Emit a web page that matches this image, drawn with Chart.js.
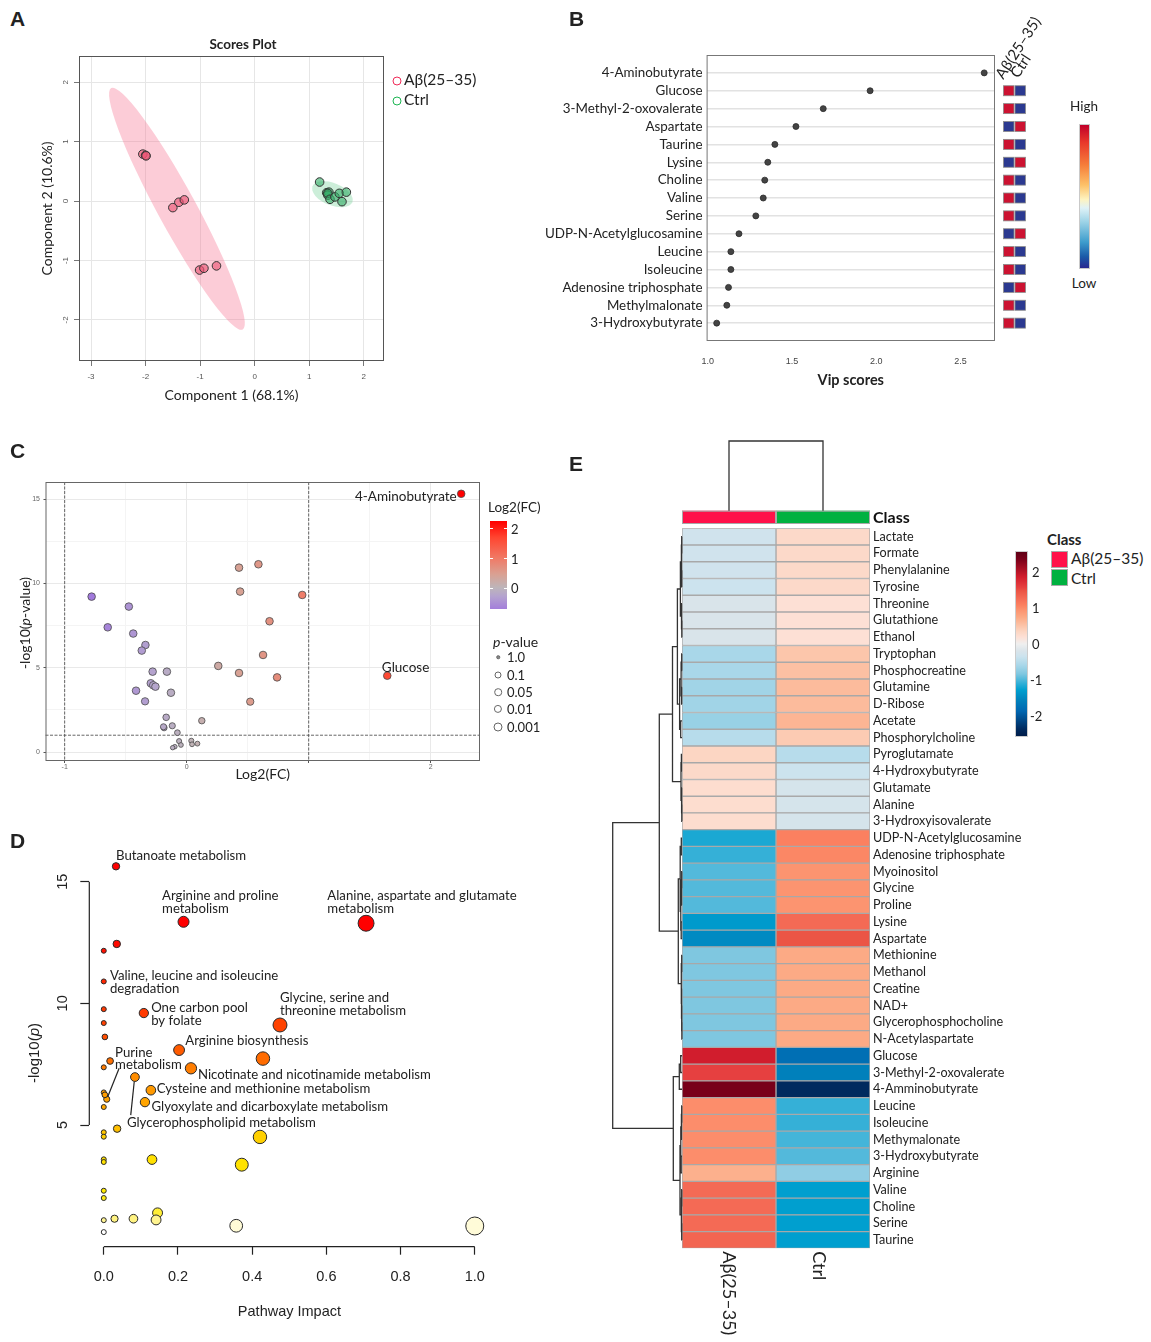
<!DOCTYPE html>
<html>
<head>
<meta charset="utf-8">
<title>NMR metabolomics panels</title>
<script src="https://cdn.jsdelivr.net/npm/chart.js@4.4.1/dist/chart.umd.min.js"></script>
<style>
  body { margin: 0; background: #fff; font-family: Lato, sans-serif; color: #222; }
  #page { position: relative; width: 1151px; height: 1342px; overflow: hidden; background: #fff; }
  #page canvas { position: absolute; }
  .t { position: absolute; white-space: nowrap; line-height: 1; }
  .mid { transform: translateY(-50%); }
  .ctr { transform: translate(-50%, -50%); }
  .letter { position: absolute; font: bold 21px "Liberation Sans", Arial, sans-serif; line-height: 1; transform: translateY(-50%); }
  .box { position: absolute; box-sizing: border-box; }
  .dot { position: absolute; box-sizing: border-box; border-radius: 50%; transform: translate(-50%, -50%); }
</style>
</head>
<body>
<div id="page">
  <canvas id="chartA" width="486" height="390" style="left:0;top:30px"></canvas>
  <canvas id="chartB" width="500" height="400" style="left:540px;top:0"></canvas>
  <canvas id="chartC" width="490" height="350" style="left:0;top:440px"></canvas>
  <canvas id="chartD" width="540" height="502" style="left:0;top:840px"></canvas>
  <canvas id="chartE" width="480" height="922" style="left:560px;top:420px"></canvas>

  <!-- panel letters -->
  <div class="letter" style="left:10px;top:18px">A</div>
  <div class="letter" style="left:569px;top:18px">B</div>
  <div class="letter" style="left:10px;top:450px">C</div>
  <div class="letter" style="left:10px;top:840px">D</div>
  <div class="letter" style="left:569px;top:463px">E</div>

  <!-- A: title + legend -->
  <div class="t ctr" style="left:243px;top:45px;font-weight:bold;font-size:13.5px">Scores Plot</div>
  <div class="dot" style="left:396.5px;top:80.5px;width:9px;height:9px;border:1.6px solid #ef2b58"></div>
  <div class="t mid" style="left:404px;top:80px;font-size:15.5px">Aβ(25–35)</div>
  <div class="dot" style="left:396.5px;top:100.5px;width:9px;height:9px;border:1.6px solid #1bb552"></div>
  <div class="t mid" style="left:404px;top:100px;font-size:15.5px">Ctrl</div>

  <!-- B: column headers + colour key -->
  <div class="t" style="left:1005px;top:66px;font-size:15px;transform-origin:0 100%;transform:rotate(-57deg)">Aβ(25–35)</div>
  <div class="t" style="left:1020px;top:65px;font-size:15px;transform-origin:0 100%;transform:rotate(-57deg)">Ctrl</div>
  <div class="t ctr" style="left:1084px;top:106.5px;font-size:13.5px">High</div>
  <div class="box" style="left:1079px;top:124px;width:10.5px;height:145px;border:1px solid #c9c9c9;background:linear-gradient(to bottom,#c0002a 0%,#e8372a 12%,#f67d3a 28%,#fdc168 42%,#fef3c0 52%,#dff2f7 58%,#9bd2e6 68%,#3d9ccc 82%,#1b5aa8 92%,#29288f 100%)"></div>
  <div class="t ctr" style="left:1084px;top:284px;font-size:13.5px">Low</div>

  <!-- C: y title + legends -->
  <div class="t ctr" style="left:25px;top:623px;font-size:14px;transform:translate(-50%,-50%) rotate(-90deg)">-log10(<i>p</i>-value)</div>
  <div class="t mid" style="left:488px;top:508px;font-size:13.5px">Log2(FC)</div>
  <div class="box" id="barC" style="left:490px;top:520.7px;width:17px;height:88.3px"></div>
  <div class="box" style="left:490px;top:528px;width:3px;height:1px;background:#fff"></div>
  <div class="box" style="left:504px;top:528px;width:3px;height:1px;background:#fff"></div>
  <div class="box" style="left:490px;top:558px;width:3px;height:1px;background:#fff"></div>
  <div class="box" style="left:504px;top:558px;width:3px;height:1px;background:#fff"></div>
  <div class="box" style="left:490px;top:587.5px;width:3px;height:1px;background:#fff"></div>
  <div class="box" style="left:504px;top:587.5px;width:3px;height:1px;background:#fff"></div>
  <div class="t mid" style="left:511px;top:528.5px;font-size:13px">2</div>
  <div class="t mid" style="left:511px;top:558.5px;font-size:13px">1</div>
  <div class="t mid" style="left:511px;top:588px;font-size:13px">0</div>
  <div class="t mid" style="left:493px;top:642px;font-size:14px"><i>p</i>-value</div>
  <div class="dot" style="left:498px;top:657.3px;width:3.5px;height:3.5px;background:#888;border:0.8px solid #666"></div>
  <div class="dot" style="left:498px;top:675px;width:7px;height:7px;border:1px solid #666"></div>
  <div class="dot" style="left:498px;top:692px;width:7.6px;height:7.6px;border:1px solid #666"></div>
  <div class="dot" style="left:498px;top:709.3px;width:8.2px;height:8.2px;border:1px solid #666"></div>
  <div class="dot" style="left:498px;top:726.7px;width:9px;height:9px;border:1px solid #666"></div>
  <div class="t mid" style="left:507px;top:657.3px;font-size:13px">1.0</div>
  <div class="t mid" style="left:507px;top:675px;font-size:13px">0.1</div>
  <div class="t mid" style="left:507px;top:692px;font-size:13px">0.05</div>
  <div class="t mid" style="left:507px;top:709.3px;font-size:13px">0.01</div>
  <div class="t mid" style="left:507px;top:726.7px;font-size:13px">0.001</div>

  <!-- D: y title -->
  <div class="t ctr" style="left:33px;top:1053px;font:15px 'Liberation Sans',Arial,sans-serif;transform:translate(-50%,-50%) rotate(-90deg)">-log10(<i>p</i>)</div>

  <!-- E: legends -->
  <div class="t mid" style="left:1047px;top:539px;font-size:15px;font-weight:bold">Class</div>
  <div class="box" style="left:1051px;top:550.7px;width:16.6px;height:17px;background:#ff1049;border:1px solid #aaa"></div>
  <div class="box" style="left:1051px;top:569px;width:16.6px;height:17px;background:#00b140;border:1px solid #aaa"></div>
  <div class="t mid" style="left:1071px;top:559.3px;font-size:15.5px">Aβ(25–35)</div>
  <div class="t mid" style="left:1071px;top:579.3px;font-size:15.5px">Ctrl</div>
  <div class="box" id="barE" style="left:1015px;top:550.7px;width:13px;height:186.6px;border:1px solid #ccc"></div>
  <div class="t mid" style="left:1032px;top:572.3px;font-size:13px">2</div>
  <div class="t mid" style="left:1032px;top:608.3px;font-size:13px">1</div>
  <div class="t mid" style="left:1032px;top:644px;font-size:13px">0</div>
  <div class="t mid" style="left:1030px;top:680px;font-size:13px">-1</div>
  <div class="t mid" style="left:1030px;top:715.7px;font-size:13px">-2</div>
</div>

<script>
/*** data ***/

// A - PLS-DA scores
const abPc1 = [-2.05, -2.00, -1.99, -1.50, -1.39, -1.29, -1.01, -0.93, -0.70];
const abPc2 = [0.79, 0.77, 0.76, -0.11, -0.02, 0.02, -1.16, -1.13, -1.09];
const ctrlPc1 = [1.19, 1.32, 1.36, 1.34, 1.34, 1.38, 1.47, 1.55, 1.68, 1.60];
const ctrlPc2 = [0.32, 0.14, 0.15, 0.10, 0.13, 0.03, 0.07, 0.13, 0.15, -0.01];
const scoreTicksX = [-3, -2, -1, 0, 1, 2];
const scoreTicksY = [-2, -1, 0, 1, 2];
// 95% regions: ends of the long axis (data units) and short/long ratio
const abRegion = { from: [-2.63, 1.90], to: [-0.22, -2.16], ratio: 0.14 };
const ctrlRegion = { from: [1.06, 0.25], to: [1.79, -0.02], ratio: 0.52 };

// B - VIP scores
const vipNames = ['4-Aminobutyrate', 'Glucose', '3-Methyl-2-oxovalerate', 'Aspartate', 'Taurine', 'Lysine',
  'Choline', 'Valine', 'Serine', 'UDP-N-Acetylglucosamine', 'Leucine', 'Isoleucine',
  'Adenosine triphosphate', 'Methylmalonate', '3-Hydroxybutyrate'];
const vipScores = [2.64, 1.963, 1.685, 1.523, 1.398, 1.356, 1.338, 1.329, 1.285, 1.185, 1.137, 1.137, 1.123, 1.113, 1.053];
const vipAbHigh = [null, 1, 1, 0, 1, 0, 1, 1, 1, 0, 1, 1, 0, 1, 1];   // 1 = higher in Aβ(25–35)
const vipTicks = [1.0, 1.5, 2.0, 2.5];

// C - volcano
const fcLog2 = [2.25, 1.644, 0.588, 0.429, 0.438, 0.947, 0.679, 0.626, 0.259, 0.429, 0.741, 0.521, 0.124,
  -0.779, -0.474, -0.647, -0.438, -0.338, -0.368, -0.279, -0.162, -0.294, -0.274, -0.256, -0.415, -0.129,
  -0.341, -0.168, -0.185, -0.190, -0.118, -0.076, -0.062, 0.038, 0.044, 0.088, -0.047, -0.097, -0.115];
const fcLogP = [15.32, 4.53, 11.14, 10.94, 9.52, 9.32, 7.76, 5.76, 5.11, 4.69, 4.43, 2.99, 1.86,
  9.22, 8.63, 7.40, 7.03, 6.35, 6.02, 4.77, 4.77, 4.08, 3.96, 3.88, 3.64, 3.52,
  3.01, 2.06, 1.44, 1.50, 1.56, 1.15, 0.65, 0.67, 0.46, 0.50, 0.42, 0.32, 0.26];
const fcNamed = ['4-Aminobutyrate', 'Glucose'];   // first two points
const fcTicksX = [-1, -0.5, 0, 0.5, 1, 1.5, 2];
const fcTicksY = [0, 2.5, 5, 7.5, 10, 12.5, 15];
const fcCutP = 1, fcCutFC = [-1, 1];

// D - pathway analysis
const pathNames = ['Butanoate metabolism', 'Arginine and proline metabolism', 'Alanine, aspartate and glutamate metabolism',
  '', '', 'Valine, leucine and isoleucine degradation', '', '', '', 'One carbon pool by folate',
  'Glycine, serine and threonine metabolism', 'Arginine biosynthesis', '', 'Nicotinate and nicotinamide metabolism',
  '', '', 'Glycerophospholipid metabolism', 'Purine metabolism', '', '', 'Cysteine and methionine metabolism',
  'Glyoxylate and dicarboxylate metabolism', '', '', '', '', '', '', '', '', '', '', '', '', '', '', '', '', '', '', ''];
const pathImpact = [0.033, 0.215, 0.707, 0.035, 0.0, 0.0, 0.0, 0.0, 0.003, 0.108, 0.475, 0.203, 0.429, 0.235,
  0.017, 0.0, 0.084, 0.008, 0.0, 0.003, 0.127, 0.111, 0.0, 0.036, 0.421, 0.0, 0.0, 0.0, 0.0, 0.130, 0.372,
  0.0, 0.0, 0.145, 0.141, 0.0, 0.029, 0.080, 0.357, 1.0, 0.0];
const pathLogP = [15.63, 13.35, 13.29, 12.44, 12.16, 10.90, 9.76, 9.19, 8.62, 9.60, 9.11, 8.08, 7.73, 7.33,
  7.63, 7.37, 6.97, 6.06, 6.34, 6.24, 6.43, 5.94, 5.74, 4.85, 4.51, 4.70, 4.52, 3.59, 3.48, 3.58, 3.37,
  2.30, 2.00, 1.39, 1.10, 1.09, 1.15, 1.15, 0.86, 0.85, 0.60];
const impactTicks = [0, 0.2, 0.4, 0.6, 0.8, 1.0];
const pathTicksY = [5, 10, 15];

// E - heatmap of group averages
const heatRows = ['Lactate', 'Formate', 'Phenylalanine', 'Tyrosine', 'Threonine', 'Glutathione', 'Ethanol',
  'Tryptophan', 'Phosphocreatine', 'Glutamine', 'D-Ribose', 'Acetate', 'Phosphorylcholine', 'Pyroglutamate',
  '4-Hydroxybutyrate', 'Glutamate', 'Alanine', '3-Hydroxyisovalerate', 'UDP-N-Acetylglucosamine',
  'Adenosine triphosphate', 'Myoinositol', 'Glycine', 'Proline', 'Lysine', 'Aspartate', 'Methionine',
  'Methanol', 'Creatine', 'NAD+', 'Glycerophosphocholine', 'N-Acetylaspartate', 'Glucose',
  '3-Methyl-2-oxovalerate', '4-Amminobutyrate', 'Leucine', 'Isoleucine', 'Methymalonate',
  '3-Hydroxybutyrate', 'Arginine', 'Valine', 'Choline', 'Serine', 'Taurine'];
const heatAb = [-0.30, -0.30, -0.30, -0.35, -0.20, -0.20, -0.20, -0.60, -0.60, -0.65, -0.65, -0.70, -0.50,
  0.35, 0.30, 0.25, 0.25, 0.25, -1.20, -1.10, -1.00, -1.00, -1.00, -1.35, -1.50, -0.85, -0.85, -0.85,
  -0.85, -0.85, -0.85, 1.90, 1.60, 2.40, 1.00, 1.00, 1.00, 1.00, 0.70, 1.30, 1.30, 1.30, 1.35];
const heatCtrl = [0.30, 0.30, 0.30, 0.30, 0.20, 0.20, 0.20, 0.50, 0.55, 0.60, 0.60, 0.65, 0.45,
  -0.50, -0.35, -0.25, -0.25, -0.25, 1.10, 1.05, 0.95, 0.95, 0.95, 1.30, 1.50, 0.75, 0.75, 0.75,
  0.75, 0.75, 0.75, -1.80, -1.60, -2.40, -1.10, -1.10, -1.05, -1.00, -0.75, -1.30, -1.30, -1.30, -1.30];
const heatGroups = ['Aβ(25–35)', 'Ctrl'];
// row clustering: [height, left, right], leaves are row indices
const rowTree = [69.3,
  [22.7,
    [9.5,
      [4.6, [1.6, [0.6, [0.3, 0, 1], [0.3, 2, 3]], [0.5, 4, [0.2, 5, 6]]],
            [2.4, [0.9, [0.3, 7, 8], [0.4, 9, 10]], [1.3, 11, 12]]],
      [1.0, [0.6, 13, 14], [0.4, 15, [0.2, 16, 17]]]],
    [3.7, [1.8, [0.7, 18, 19], [1.2, [0.5, [0.3, 20, 21], 22], [0.8, 23, 24]]],
          [0.7, [0.3, 25, 26], [0.5, 27, [0.3, 28, [0.15, 29, 30]]]]]],
  [8.7,
    [2.7, [1.3, 31, 32], 33],
    [2.0, [1.2, [0.6, [0.3, 34, 35], 36], [0.8, 37, 38]], [0.6, [0.3, 39, 40], [0.3, 41, 42]]]]];

/*** palettes ***/
const fcPalette = [[-0.8, '#a077dd'], [-0.3, '#b4a2cf'], [0, '#bdb5ba'], [0.45, '#d9a193'],
  [1.0, '#f07a66'], [1.7, '#ff4530'], [2.25, '#ff0000']];
const pPalette = [[0.6, '#ffffff'], [0.86, '#fffbd6'], [1.1, '#fff490'], [1.4, '#ffee33'], [2.3, '#ffea00'],
  [3.6, '#ffe000'], [4.5, '#ffd000'], [5.0, '#ffb800'], [5.9, '#ffa500'], [7.0, '#ff8c00'], [8.1, '#ff5a00'],
  [9.2, '#ff4000'], [11, '#ff2500'], [13, '#ff0000']];
const heatPalette = [[-2.6, '#001d4a'], [-2.4, '#002a5e'], [-1.9, '#0066b0'], [-1.6, '#0080bb'], [-1.3, '#009fcf'],
  [-1.1, '#35b0d7'], [-0.85, '#7fc7e0'], [-0.6, '#a9d7e9'], [-0.35, '#cce3ee'], [-0.2, '#d9e4ea'], [0, '#efefef'],
  [0.2, '#fde0d5'], [0.35, '#fcd6c3'], [0.55, '#fcc0a3'], [0.75, '#fcaa85'], [0.95, '#fc9470'], [1.1, '#fb8060'],
  [1.3, '#f46a55'], [1.5, '#eb5545'], [1.6, '#e64040'], [1.9, '#d11d2d'], [2.4, '#780019'], [2.6, '#5e0015']];

function hexRgb(h) { return [1, 3, 5].map(i => parseInt(h.substr(i, 2), 16)); }
function ramp(stops, v) {
  if (v <= stops[0][0]) return stops[0][1];
  for (let i = 1; i < stops.length; i++) {
    if (v <= stops[i][0]) {
      const t = (v - stops[i - 1][0]) / (stops[i][0] - stops[i - 1][0]);
      const a = hexRgb(stops[i - 1][1]), b = hexRgb(stops[i][1]);
      return 'rgb(' + a.map((c, k) => Math.round(c + (b[k] - c) * t)).join(',') + ')';
    }
  }
  return stops[stops.length - 1][1];
}
function cssRamp(stops, lo, hi) {
  return 'linear-gradient(to top,' + stops.map(([v, c]) => c + ' ' + ((v - lo) / (hi - lo) * 100).toFixed(1) + '%').join(',') + ')';
}
document.getElementById('barC').style.background = cssRamp(fcPalette, -0.72, 2.26);
document.getElementById('barE').style.background = cssRamp(heatPalette, -2.6, 2.6);

Chart.defaults.font.family = 'Lato, sans-serif';
Chart.defaults.color = '#222';
Chart.defaults.animation = false;
Chart.defaults.events = [];
Chart.defaults.plugins.legend.display = false;
Chart.defaults.plugins.tooltip.enabled = false;

const pts = (xs, ys) => xs.map((x, i) => ({ x, y: ys[i] }));
const tickFont = { family: 'Liberation Sans', size: 8 };

// box round the plot area
const framePlugin = {
  id: 'frame',
  afterDatasetsDraw(chart, args, opts) {
    const { ctx, chartArea: a } = chart;
    ctx.save();
    ctx.strokeStyle = opts.color || '#666';
    ctx.lineWidth = 1;
    ctx.strokeRect(a.left + 0.5, a.top + 0.5, a.width - 1, a.height - 1);
    ctx.restore();
  }
};

/*** A: scores plot ***/
const regionPlugin = {
  id: 'regions',
  beforeDatasetsDraw(chart) {
    const { ctx, scales: { x, y } } = chart;
    [[abRegion, 'rgba(247,120,150,0.38)'], [ctrlRegion, 'rgba(110,205,145,0.35)']].forEach(([r, col]) => {
      const x1 = x.getPixelForValue(r.from[0]), y1 = y.getPixelForValue(r.from[1]);
      const x2 = x.getPixelForValue(r.to[0]), y2 = y.getPixelForValue(r.to[1]);
      const half = Math.hypot(x2 - x1, y2 - y1) / 2;
      ctx.save();
      ctx.beginPath();
      ctx.ellipse((x1 + x2) / 2, (y1 + y2) / 2, half, half * r.ratio, Math.atan2(y2 - y1, x2 - x1), 0, Math.PI * 2);
      ctx.fillStyle = col;
      ctx.fill();
      ctx.restore();
    });
  }
};

new Chart(document.getElementById('chartA'), {
  type: 'scatter',
  data: {
    datasets: [
      { label: 'Aβ(25–35)', data: pts(abPc1, abPc2), backgroundColor: 'rgba(236,84,116,0.62)', borderColor: '#333', borderWidth: 1, pointRadius: 4.3 },
      { label: 'Ctrl', data: pts(ctrlPc1, ctrlPc2), backgroundColor: 'rgba(55,175,105,0.62)', borderColor: '#333', borderWidth: 1, pointRadius: 4.3 }
    ]
  },
  options: {
    responsive: false,
    layout: { padding: { left: 0, right: 102, top: 26, bottom: 0 } },
    plugins: { frame: { color: '#555' } },
    scales: {
      x: {
        type: 'linear', min: -3.22, max: 2.37,
        afterBuildTicks: s => { s.ticks = scoreTicksX.map(v => ({ value: v })); },
        afterFit: s => { s.height = 59; },
        grid: { color: '#e6e6e6', tickColor: '#777', tickLength: 5 },
        border: { display: false },
        ticks: { font: tickFont, color: '#555', padding: 6 },
        title: { display: true, text: 'Component 1 (68.1%)', font: { size: 14 }, padding: { top: 0, bottom: 16 } }
      },
      y: {
        type: 'linear', min: -2.69, max: 2.44,
        afterBuildTicks: s => { s.ticks = scoreTicksY.map(v => ({ value: v })); },
        afterFit: s => { s.width = 79; s.paddingTop = 0; s.paddingBottom = 0; },
        grid: { color: '#e6e6e6', tickColor: '#777', tickLength: 5 },
        border: { display: false },
        ticks: { font: tickFont, color: '#555', padding: 4.5, minRotation: 90, maxRotation: 90, crossAlign: 'center' },
        title: { display: true, text: 'Component 2 (10.6%)', font: { size: 14 }, padding: { top: 39, bottom: 0 } }
      }
    }
  },
  plugins: [regionPlugin, framePlugin]
});

/*** B: VIP scores ***/
const vipKeyPlugin = {
  id: 'vipKey',
  afterDraw(chart) {
    const { ctx, chartArea: a, scales: { y } } = chart;
    ctx.save();
    ctx.lineWidth = 0.8;
    ctx.strokeStyle = '#8a8a8a';
    vipAbHigh.forEach((h, i) => {
      if (h === null) return;
      const py = y.getPixelForValue(i + 1);
      const cols = h ? ['#cc1231', '#2b3990'] : ['#2b3990', '#cc1231'];
      cols.forEach((c, k) => {
        const px = a.right + 8.5 + k * 11.5;
        ctx.fillStyle = c;
        ctx.fillRect(px, py - 5, 10.5, 10);
        ctx.strokeRect(px, py - 5, 10.5, 10);
      });
    });
    ctx.restore();
  }
};

new Chart(document.getElementById('chartB'), {
  type: 'scatter',
  data: {
    datasets: [{ data: vipScores.map((v, i) => ({ x: v, y: i + 1 })), backgroundColor: '#444', borderColor: '#2a2a2a', borderWidth: 0.8, pointRadius: 3 }]
  },
  options: {
    responsive: false,
    layout: { padding: { left: 0, right: 45, top: 55, bottom: 0 } },
    plugins: { frame: { color: '#777' } },
    scales: {
      x: {
        type: 'linear', min: 0.993, max: 2.704,
        afterBuildTicks: s => { s.ticks = vipTicks.map(v => ({ value: v })); },
        afterFit: s => { s.height = 59; },
        grid: { drawOnChartArea: false, drawTicks: false },
        border: { display: false },
        ticks: { font: { family: 'Liberation Sans', size: 9 }, color: '#444', padding: 15.3, callback: v => v.toFixed(1) },
        title: { display: true, text: 'Vip scores', font: { size: 14.5, weight: 'bold' }, padding: { top: 0, bottom: 10.6 } }
      },
      y: {
        type: 'linear', min: 0, max: 16, reverse: true,
        afterBuildTicks: s => { s.ticks = vipNames.map((n, i) => ({ value: i + 1 })); },
        afterFit: s => { s.width = 166.6; s.paddingTop = 0; s.paddingBottom = 0; },
        grid: { color: '#e2e2e2', lineWidth: 1.5, drawTicks: false },
        border: { display: false },
        ticks: { font: { size: 13.4 }, color: '#222', padding: 4, autoSkip: false, callback: v => vipNames[v - 1] }
      }
    }
  },
  plugins: [framePlugin, vipKeyPlugin]
});

/*** C: volcano plot ***/
const fcRadius = v => Math.min(3.8, 1.6 + 1.2 * Math.sqrt(Math.max(v, 0)));

const cutLinePlugin = {
  id: 'cutLines',
  beforeDatasetsDraw(chart) {
    const { ctx, chartArea: a, scales: { x, y } } = chart;
    ctx.save();
    ctx.strokeStyle = '#555';
    ctx.lineWidth = 0.9;
    ctx.setLineDash([3, 1.5]);
    ctx.beginPath();
    fcCutFC.forEach(v => { const px = x.getPixelForValue(v); ctx.moveTo(px, a.top); ctx.lineTo(px, a.bottom); });
    const py = y.getPixelForValue(fcCutP);
    ctx.moveTo(a.left, py); ctx.lineTo(a.right, py);
    ctx.stroke();
    ctx.restore();
  },
  afterDatasetsDraw(chart) {
    const { ctx, scales: { x, y } } = chart;
    ctx.save();
    ctx.font = '13.5px Lato, sans-serif';
    ctx.fillStyle = '#222';
    ctx.textBaseline = 'middle';
    let px = x.getPixelForValue(fcLog2[0]), py = y.getPixelForValue(fcLogP[0]);
    ctx.textAlign = 'right';
    ctx.fillText(fcNamed[0], px - 4.5, py + 2.5);
    px = x.getPixelForValue(fcLog2[1]); py = y.getPixelForValue(fcLogP[1]);
    ctx.textAlign = 'center';
    ctx.fillText(fcNamed[1], px + 18.3, py - 8.4);
    ctx.restore();
  }
};

new Chart(document.getElementById('chartC'), {
  type: 'scatter',
  data: {
    datasets: [{
      data: pts(fcLog2, fcLogP),
      backgroundColor: c => c.raw ? ramp(fcPalette, c.raw.x) : '#bbb',
      pointRadius: c => c.raw ? fcRadius(c.raw.y) : 3,
      borderColor: '#4a4a4a', borderWidth: 0.8
    }]
  },
  options: {
    responsive: false,
    layout: { padding: { left: 0, right: 10, top: 42, bottom: 0 } },
    plugins: { frame: { color: '#666' } },
    scales: {
      x: {
        type: 'linear', min: -1.157, max: 2.404,
        afterBuildTicks: s => { s.ticks = fcTicksX.map(v => ({ value: v })); },
        afterFit: s => { s.height = 29; },
        grid: {
          color: c => Number.isInteger(c.tick.value) ? '#e9e9e9' : '#f4f4f4',
          tickColor: c => Number.isInteger(c.tick.value) ? '#555' : 'rgba(0,0,0,0)',
          tickLength: 2
        },
        border: { display: false },
        ticks: { font: { family: 'Liberation Sans', size: 7 }, color: '#666', padding: 0, callback: v => ([-1, 0, 2].includes(v) ? String(v) : '') },
        title: { display: true, text: 'Log2(FC)', font: { size: 14 }, padding: { top: 0, bottom: 7 } }
      },
      y: {
        type: 'linear', min: -0.53, max: 16.02,
        afterBuildTicks: s => { s.ticks = fcTicksY.map(v => ({ value: v })); },
        afterFit: s => { s.width = 45.5; s.paddingTop = 0; s.paddingBottom = 0; },
        grid: {
          color: c => c.tick.value % 5 === 0 ? '#e9e9e9' : '#f4f4f4',
          tickColor: c => c.tick.value % 5 === 0 ? '#555' : 'rgba(0,0,0,0)',
          tickLength: 2
        },
        border: { display: false },
        ticks: { font: { family: 'Liberation Sans', size: 7 }, color: '#666', padding: 3.5, callback: v => (v % 5 === 0 ? String(v) : '') }
      }
    }
  },
  plugins: [cutLinePlugin, framePlugin]
});

/*** D: pathway impact ***/
const pathLabelLayout = {
  'Butanoate metabolism': { dx: 0, dy: -10.3, text: ['Butanoate metabolism'] },
  'Arginine and proline metabolism': { dx: -21.5, dy: -26.3, text: ['Arginine and proline', 'metabolism'] },
  'Alanine, aspartate and glutamate metabolism': { dx: -38.7, dy: -28, text: ['Alanine, aspartate and glutamate', 'metabolism'] },
  'Valine, leucine and isoleucine degradation': { dx: 6.2, dy: -5.7, text: ['Valine, leucine and isoleucine', 'degradation'] },
  'One carbon pool by folate': { dx: 7.3, dy: -5.7, text: ['One carbon pool', 'by folate'] },
  'Glycine, serine and threonine metabolism': { dx: 0, dy: -27.7, text: ['Glycine, serine and', 'threonine metabolism'] },
  'Arginine biosynthesis': { dx: 6.2, dy: -9, text: ['Arginine biosynthesis'] },
  'Nicotinate and nicotinamide metabolism': { dx: 7, dy: 6.6, text: ['Nicotinate and nicotinamide metabolism'] },
  'Purine metabolism': { dx: 8.3, dy: -46, text: ['Purine', 'metabolism'], gap: 11.5, leader: [1, -2.5, 12.4, -31] },
  'Cysteine and methionine metabolism': { dx: 5.8, dy: -1.7, text: ['Cysteine and methionine metabolism'] },
  'Glyoxylate and dicarboxylate metabolism': { dx: 6.6, dy: 4.3, text: ['Glyoxylate and dicarboxylate metabolism'] },
  'Glycerophospholipid metabolism': { dx: -8, dy: 45.7, text: ['Glycerophospholipid metabolism'], leader: [-0.7, 4.7, -4.2, 38] }
};

const pathAxisPlugin = {
  id: 'pathAxes',
  afterDraw(chart) {
    const { ctx, chartArea: a, scales: { x, y } } = chart;
    ctx.save();
    ctx.strokeStyle = '#222';
    ctx.lineWidth = 1.2;
    ctx.beginPath();
    ctx.moveTo(a.left, y.getPixelForValue(pathTicksY[0]));
    ctx.lineTo(a.left, y.getPixelForValue(pathTicksY[pathTicksY.length - 1]));
    ctx.moveTo(x.getPixelForValue(impactTicks[0]), a.bottom);
    ctx.lineTo(x.getPixelForValue(impactTicks[impactTicks.length - 1]), a.bottom);
    ctx.stroke();
    ctx.restore();
  },
  afterDatasetsDraw(chart) {
    const { ctx, scales: { x, y } } = chart;
    ctx.save();
    ctx.font = '13.2px Lato, sans-serif';
    ctx.fillStyle = '#222';
    ctx.strokeStyle = '#222';
    ctx.lineWidth = 1.2;
    ctx.textBaseline = 'middle';
    ctx.textAlign = 'left';
    pathNames.forEach((name, i) => {
      const lay = pathLabelLayout[name];
      if (!lay) return;
      const px = x.getPixelForValue(pathImpact[i]), py = y.getPixelForValue(pathLogP[i]);
      lay.text.forEach((t, k) => ctx.fillText(t, px + lay.dx, py + lay.dy + k * (lay.gap || 13)));
      if (lay.leader) {
        ctx.beginPath();
        ctx.moveTo(px + lay.leader[0], py + lay.leader[1]);
        ctx.lineTo(px + lay.leader[2], py + lay.leader[3]);
        ctx.stroke();
      }
    });
    ctx.restore();
  }
};

const axisD = { family: 'Liberation Sans', size: 14.5 };
new Chart(document.getElementById('chartD'), {
  type: 'scatter',
  data: {
    datasets: [{
      data: pts(pathImpact, pathLogP),
      backgroundColor: c => c.raw ? ramp(pPalette, c.raw.y) : '#fc0',
      pointRadius: c => c.raw ? 2.5 + 6.5 * Math.sqrt(c.raw.x) : 3,
      borderColor: '#2a2a2a', borderWidth: 1
    }]
  },
  options: {
    responsive: false,
    layout: { padding: { left: 0, right: 50.4, top: 6.6, bottom: 0 } },
    scales: {
      x: {
        type: 'linear', min: -0.039, max: 1.04,
        afterBuildTicks: s => { s.ticks = impactTicks.map(v => ({ value: v })); },
        afterFit: s => { s.height = 95.3; s.paddingLeft = 0; s.paddingRight = 0; },
        grid: { drawOnChartArea: false, tickLength: 8, tickColor: '#222', tickWidth: 1.2 },
        border: { display: false },
        ticks: { font: axisD, color: '#222', padding: 13.6, callback: v => v.toFixed(1) },
        title: { display: true, text: 'Pathway Impact', font: axisD, color: '#222', padding: { top: 0, bottom: 21.6 } }
      },
      y: {
        type: 'linear', min: 0, max: 16.3,
        afterBuildTicks: s => { s.ticks = pathTicksY.map(v => ({ value: v })); },
        afterFit: s => { s.width = 89.3; s.paddingTop = 0; s.paddingBottom = 0; },
        grid: { drawOnChartArea: false, tickLength: 9, tickColor: '#222', tickWidth: 1.2 },
        border: { display: false },
        ticks: { font: axisD, color: '#222', padding: 9.5, minRotation: 90, maxRotation: 90, crossAlign: 'center' }
      }
    }
  },
  plugins: [pathAxisPlugin]
});

/*** E: heatmap ***/
const heatDecorPlugin = {
  id: 'heatDecor',
  afterDraw(chart) {
    const { ctx, chartArea: a, scales: { x, y } } = chart;
    ctx.save();
    // class strip
    const stripTop = a.top - 17.6, stripH = 13.3;
    ['#ff1049', '#00b140'].forEach((c, j) => {
      const x0 = x.getPixelForValue(j), x1 = x.getPixelForValue(j + 1);
      ctx.fillStyle = c;
      ctx.fillRect(x0, stripTop, x1 - x0, stripH);
      ctx.strokeStyle = '#a8a8a8';
      ctx.lineWidth = 1;
      ctx.strokeRect(x0 + 0.5, stripTop + 0.5, x1 - x0 - 1, stripH - 1);
    });
    ctx.fillStyle = '#111';
    ctx.font = 'bold 16px Lato, sans-serif';
    ctx.textBaseline = 'middle';
    ctx.textAlign = 'left';
    ctx.fillText('Class', a.right + 3, stripTop + stripH / 2 + 0.5);

    // column tree
    ctx.strokeStyle = '#333';
    ctx.lineWidth = 1.3;
    const c0 = x.getPixelForValue(0.5), c1 = x.getPixelForValue(1.5), topY = stripTop - 69.7;
    ctx.beginPath();
    ctx.moveTo(c0, stripTop); ctx.lineTo(c0, topY); ctx.lineTo(c1, topY); ctx.lineTo(c1, stripTop);
    ctx.stroke();

    // row tree
    const k = 69.3 / rowTree[0];
    ctx.beginPath();
    const walk = n => {
      if (typeof n === 'number') return { x: a.left, y: y.getPixelForValue(n) };
      const l = walk(n[1]), r = walk(n[2]);
      const nx = a.left - n[0] * k;
      ctx.moveTo(l.x, l.y); ctx.lineTo(nx, l.y); ctx.lineTo(nx, r.y); ctx.lineTo(r.x, r.y);
      return { x: nx, y: (l.y + r.y) / 2 };
    };
    walk(rowTree);
    ctx.stroke();

    // column names
    ctx.fillStyle = '#222';
    ctx.font = '18px Lato, sans-serif';
    heatGroups.forEach((g, j) => {
      ctx.save();
      ctx.translate(x.getPixelForValue(j + 0.5) - (j ? 4 : 0), a.bottom + 3);
      ctx.rotate(Math.PI / 2);
      ctx.fillText(g, 0, 0);
      ctx.restore();
    });
    ctx.restore();
  }
};

const cellStyle = { borderColor: '#a9a9a9', borderWidth: 1, borderSkipped: false, barPercentage: 1, categoryPercentage: 1, grouped: false };
new Chart(document.getElementById('chartE'), {
  type: 'bar',
  data: {
    labels: heatRows,
    datasets: [
      Object.assign({ label: heatGroups[0], data: heatRows.map(() => [0, 1]), backgroundColor: heatAb.map(v => ramp(heatPalette, v)) }, cellStyle),
      Object.assign({ label: heatGroups[1], data: heatRows.map(() => [1, 2]), backgroundColor: heatCtrl.map(v => ramp(heatPalette, v)) }, cellStyle)
    ]
  },
  options: {
    responsive: false,
    indexAxis: 'y',
    layout: { padding: { left: 122, right: 0, top: 108.3, bottom: 93.7 } },
    scales: {
      x: { type: 'linear', min: 0, max: 2, display: false },
      y: {
        position: 'right',
        afterFit: s => { s.width = 170; },
        grid: { display: false, drawTicks: false },
        border: { display: false },
        ticks: { font: { size: 12.6 }, color: '#222', padding: 3, autoSkip: false }
      }
    }
  },
  plugins: [heatDecorPlugin]
});
</script>
</body>
</html>
